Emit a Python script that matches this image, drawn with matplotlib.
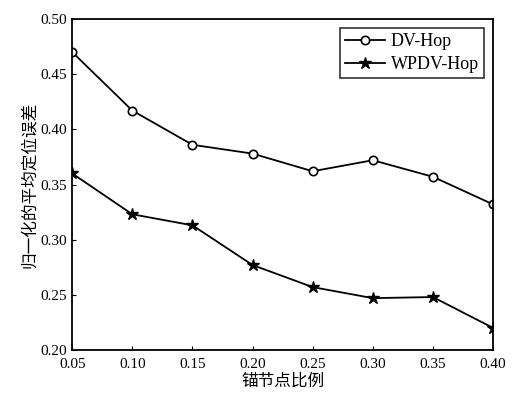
import matplotlib
matplotlib.use("Agg")
import matplotlib.pyplot as plt

ratio = [0.05, 0.10, 0.15, 0.20, 0.25, 0.30, 0.35, 0.40]
dv_hop = [0.470, 0.417, 0.386, 0.378, 0.362, 0.372, 0.357, 0.332]
wpdv_hop = [0.360, 0.323, 0.313, 0.277, 0.257, 0.247, 0.248, 0.220]
xticks = [0.05, 0.10, 0.15, 0.20, 0.25, 0.30, 0.35, 0.40]
yticks = [0.20, 0.25, 0.30, 0.35, 0.40, 0.45, 0.50]

plt.rcParams['font.family'] = ['Liberation Serif', 'Noto Sans CJK SC']

fig = plt.figure(figsize=(5.12, 4.0), dpi=100)
ax = fig.add_axes([0.141, 0.125, 0.822, 0.8275])

ax.plot(ratio, dv_hop, color='black', lw=1.3, marker='o', ms=6,
        mfc='white', mec='black', mew=1.2, label='DV-Hop')
ax.plot(ratio, wpdv_hop, color='black', lw=1.3, marker='*', ms=9,
        mfc='black', mec='black', label='WPDV-Hop')

ax.set_xlim(0.05, 0.40)
ax.set_ylim(0.20, 0.50)
ax.set_xticks(xticks)
ax.set_yticks(yticks)
ax.set_xticklabels([f"{v:.2f}" for v in xticks])
ax.set_yticklabels([f"{v:.2f}" for v in yticks])
ax.tick_params(direction='in', length=3, labelsize=11, colors='black')
ax.tick_params(axis='x', pad=6)
for s in ax.spines.values():
    s.set_linewidth(1.3)

ax.set_xlabel('锚节点比例', fontsize=12, family=['Noto Sans CJK SC'], labelpad=1)
ax.set_ylabel('归一化的平均定位误差', fontsize=12, family=['Noto Sans CJK SC'], labelpad=2)

leg = ax.legend(loc='upper right', fontsize=13, frameon=True, fancybox=False,
                edgecolor='black', handlelength=2.2, borderpad=0.3,
                labelspacing=0.3, handletextpad=0.3, borderaxespad=0.5)
leg.get_frame().set_linewidth(1.2)

fig.savefig('out.png', dpi=100)
